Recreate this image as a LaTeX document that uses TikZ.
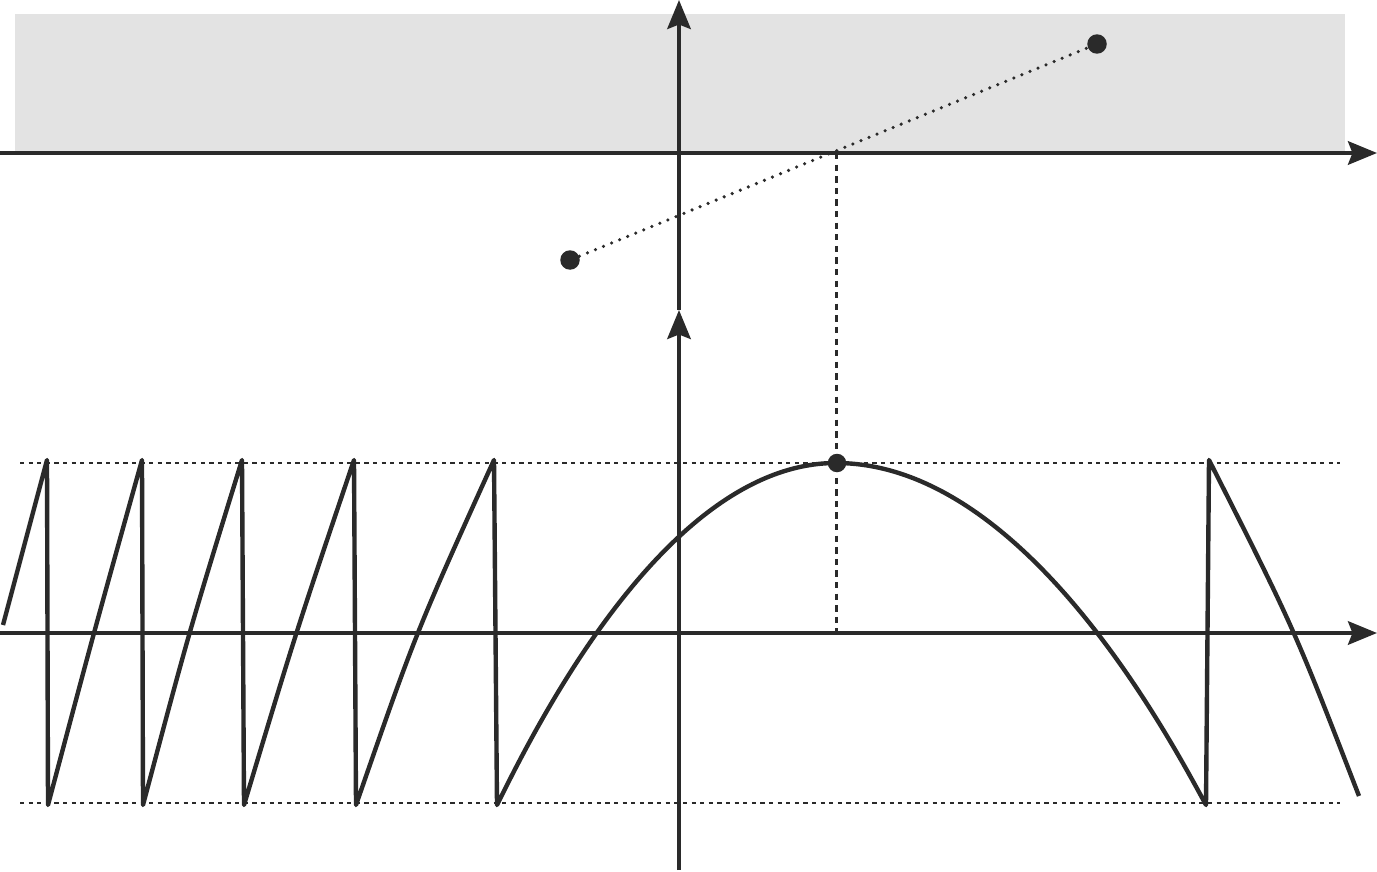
\documentclass[tikz,border=0pt]{standalone}
\usetikzlibrary{arrows.meta}
\definecolor{ink}{RGB}{42,42,42}
\definecolor{band}{RGB}{227,227,227}
\begin{document}
\begin{tikzpicture}[x=0.02cm,y=-0.02cm,
  axis/.style={draw=ink,line width=2.2pt,-{Stealth[length=0.58cm,width=0.47cm,inset=0.09cm]}},
  curve/.style={draw=ink,line width=2.5pt,line join=round,line cap=butt},
  guide/.style={draw=ink,line width=1.6pt,dash pattern=on 2.4pt off 2.5pt},
  vguide/.style={draw=ink,line width=1.7pt,dash pattern=on 3.6pt off 3pt},
  dotline/.style={draw=ink,line width=2pt,line cap=round,dash pattern=on 0pt off 4.95pt},
  bigdot/.style={circle,fill=ink,inner sep=0pt,minimum size=0.39cm},
  vdot/.style={circle,fill=ink,inner sep=0pt,minimum size=0.37cm}]
\useasboundingbox (0,0) rectangle (1377,872);
% shaded band
\fill[band] (15,14) rectangle (1345,153);
% named coordinates
\coordinate (tl) at (0,153);
\coordinate (tr) at (1377,153);
\coordinate (bl) at (0,633);
\coordinate (br) at (1377,633);
\coordinate (vbot) at (679,870);
\coordinate (vmid) at (679,310);
\coordinate (vtop) at (679,0);
\coordinate (cross) at (836,153);
\coordinate (tick) at (836,640);
\coordinate (hl1) at (20,463);
\coordinate (hr1) at (1340,463);
\coordinate (hl2) at (20,803);
\coordinate (hr2) at (1340,803);
% dashed guides
\draw[guide] (hl1) -- (hr1);
\draw[guide] (hl2) -- (hr2);
\draw[vguide] (cross) -- (tick);
% axes
\draw[axis] (tl) -- (tr);
\draw[axis] (bl) -- (br);
\draw[axis] (vmid) -- (vtop);
\draw[axis] (vbot) -- (vmid);
% dotted line with end points
\node[bigdot] (p1) at (570,260) {};
\node[bigdot] (p2) at (1097,44) {};
\draw[dotline] (p1) -- (p2);
% curve
\draw[curve] (3,625) -- (47,460) -- (48,805)
  .. controls (94,632) .. (142,460) -- (143,805)
  .. controls (189,632) .. (242,460) -- (244,805)
  .. controls (296,632) .. (354,460) -- (356,805)
  .. controls (416,632) .. (494,460) -- (497,805)
  parabola bend (836,463) (1206,805) -- (1209,460)
  .. controls (1294,628) .. (1359,796);
\node[vdot] (v) at (837,463) {};
\end{tikzpicture}
\end{document}
